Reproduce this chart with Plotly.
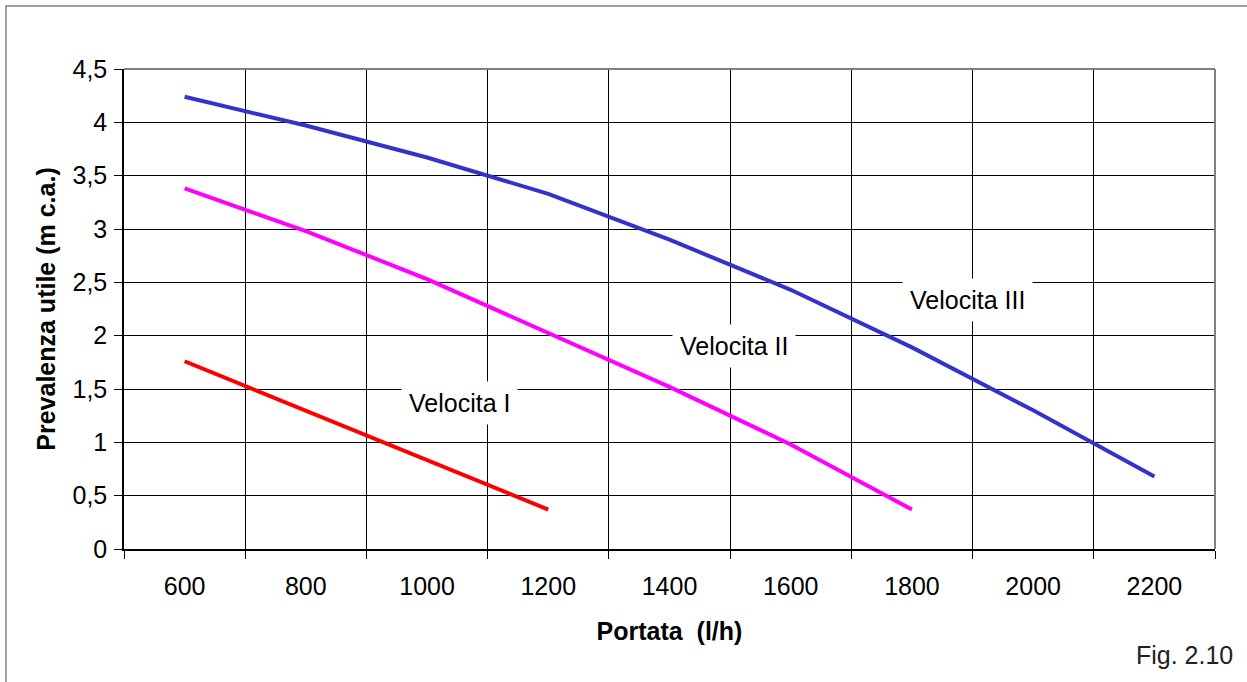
import plotly.graph_objects as go

portata = [600, 800, 1000, 1200, 1400, 1600, 1800, 2000, 2200]
vel_iii = [4.24, 3.97, 3.67, 3.33, 2.90, 2.43, 1.89, 1.30, 0.68]
vel_ii = [3.38, 2.98, 2.53, 2.03, 1.52, 0.98, 0.37]
vel_i = [1.76, 1.30, 0.83, 0.37]

y_ticks = [0, 0.5, 1, 1.5, 2, 2.5, 3, 3.5, 4, 4.5]
y_ticktext = ["0", "0,5", "1", "1,5", "2", "2,5", "3", "3,5", "4", "4,5"]

labels = ["Velocita I", "Velocita II", "Velocita III"]
label_x = [1054, 1506, 1891]
label_y = [1.37, 1.90, 2.33]

FONT = "Liberation Sans, Arial, sans-serif"
FS = 25

# plot area target (page pixels): x 124..1215, y 69..549
W, H = 1247, 682
L, R, T, B = 124, 1247 - 1215, 69, 682 - 549
PW, PH = 1215 - 124, 549 - 69

fig = go.Figure()
fig.add_trace(go.Scatter(x=portata[:len(vel_iii)], y=vel_iii, mode="lines",
                         line=dict(color="#3333CC", width=4), name="Velocita III"))
fig.add_trace(go.Scatter(x=portata[:len(vel_ii)], y=vel_ii, mode="lines",
                         line=dict(color="#FF00FF", width=4), name="Velocita II"))
fig.add_trace(go.Scatter(x=portata[:len(vel_i)], y=vel_i, mode="lines",
                         line=dict(color="#FF0000", width=4), name="Velocita I"))

for t, x, y in zip(labels, label_x, label_y):
    fig.add_annotation(x=x, y=y, xref="x", yref="y", text=t, showarrow=False,
                       bgcolor="white", borderpad=7,
                       font=dict(family=FONT, size=FS, color="black"))

fig.add_annotation(x=(1235 - 124) / PW, y=(549 - 655) / PH, xref="paper", yref="paper",
                   text="Fig. 2.10", showarrow=False, xanchor="right", yanchor="middle",
                   font=dict(family=FONT, size=FS, color="#222"))

fig.update_layout(
    width=W, height=H,
    margin=dict(l=L, r=R, t=T, b=B),
    paper_bgcolor="white", plot_bgcolor="white",
    showlegend=False,
    font=dict(family=FONT, size=FS, color="black"),
    xaxis=dict(
        range=[500, 2300], tickvals=portata, ticktext=[str(p) for p in portata],
        showgrid=False, zeroline=False,
        ticks="outside", ticklen=14, tickcolor="rgba(0,0,0,0)",
        showline=True, linecolor="black", linewidth=1.5,
        minor=dict(tick0=500, dtick=200, showgrid=True, gridcolor="black",
                   gridwidth=1, ticks="outside", ticklen=8, tickcolor="black"),
        title=dict(text="<b>Portata  (l/h)</b>", font=dict(size=FS), standoff=24),
    ),
    yaxis=dict(
        range=[0, 4.5], tickvals=y_ticks, ticktext=y_ticktext,
        showgrid=True, gridcolor="black", gridwidth=1, zeroline=False,
        ticks="outside", ticklen=8, tickcolor="black", ticklabelstandoff=2,
        showline=True, linecolor="black", linewidth=1.5,
        title=dict(text="<b>Prevalenza utile (m c.a.)</b>", font=dict(size=FS), standoff=10),
    ),
)

# Plot area top/right gray borders
fig.add_shape(type="line", xref="paper", yref="paper", x0=0, x1=1, y0=1, y1=1,
              line=dict(color="#808080", width=2), layer="above")
fig.add_shape(type="line", xref="paper", yref="paper", x0=1, x1=1, y0=0, y1=1,
              line=dict(color="#808080", width=2), layer="above")
# Outer chart frame
fig.add_shape(type="rect", xref="paper", yref="paper",
              x0=(6 - 124) / PW, x1=(1300 - 124) / PW,
              y0=(549 - 720) / PH, y1=(549 - 6) / PH,
              line=dict(color="#808080", width=1.5), layer="below")

fig.write_html("out.html", config={"displayModeBar": False},
               post_script="document.body.style.margin='0';document.body.style.overflow='hidden';")
